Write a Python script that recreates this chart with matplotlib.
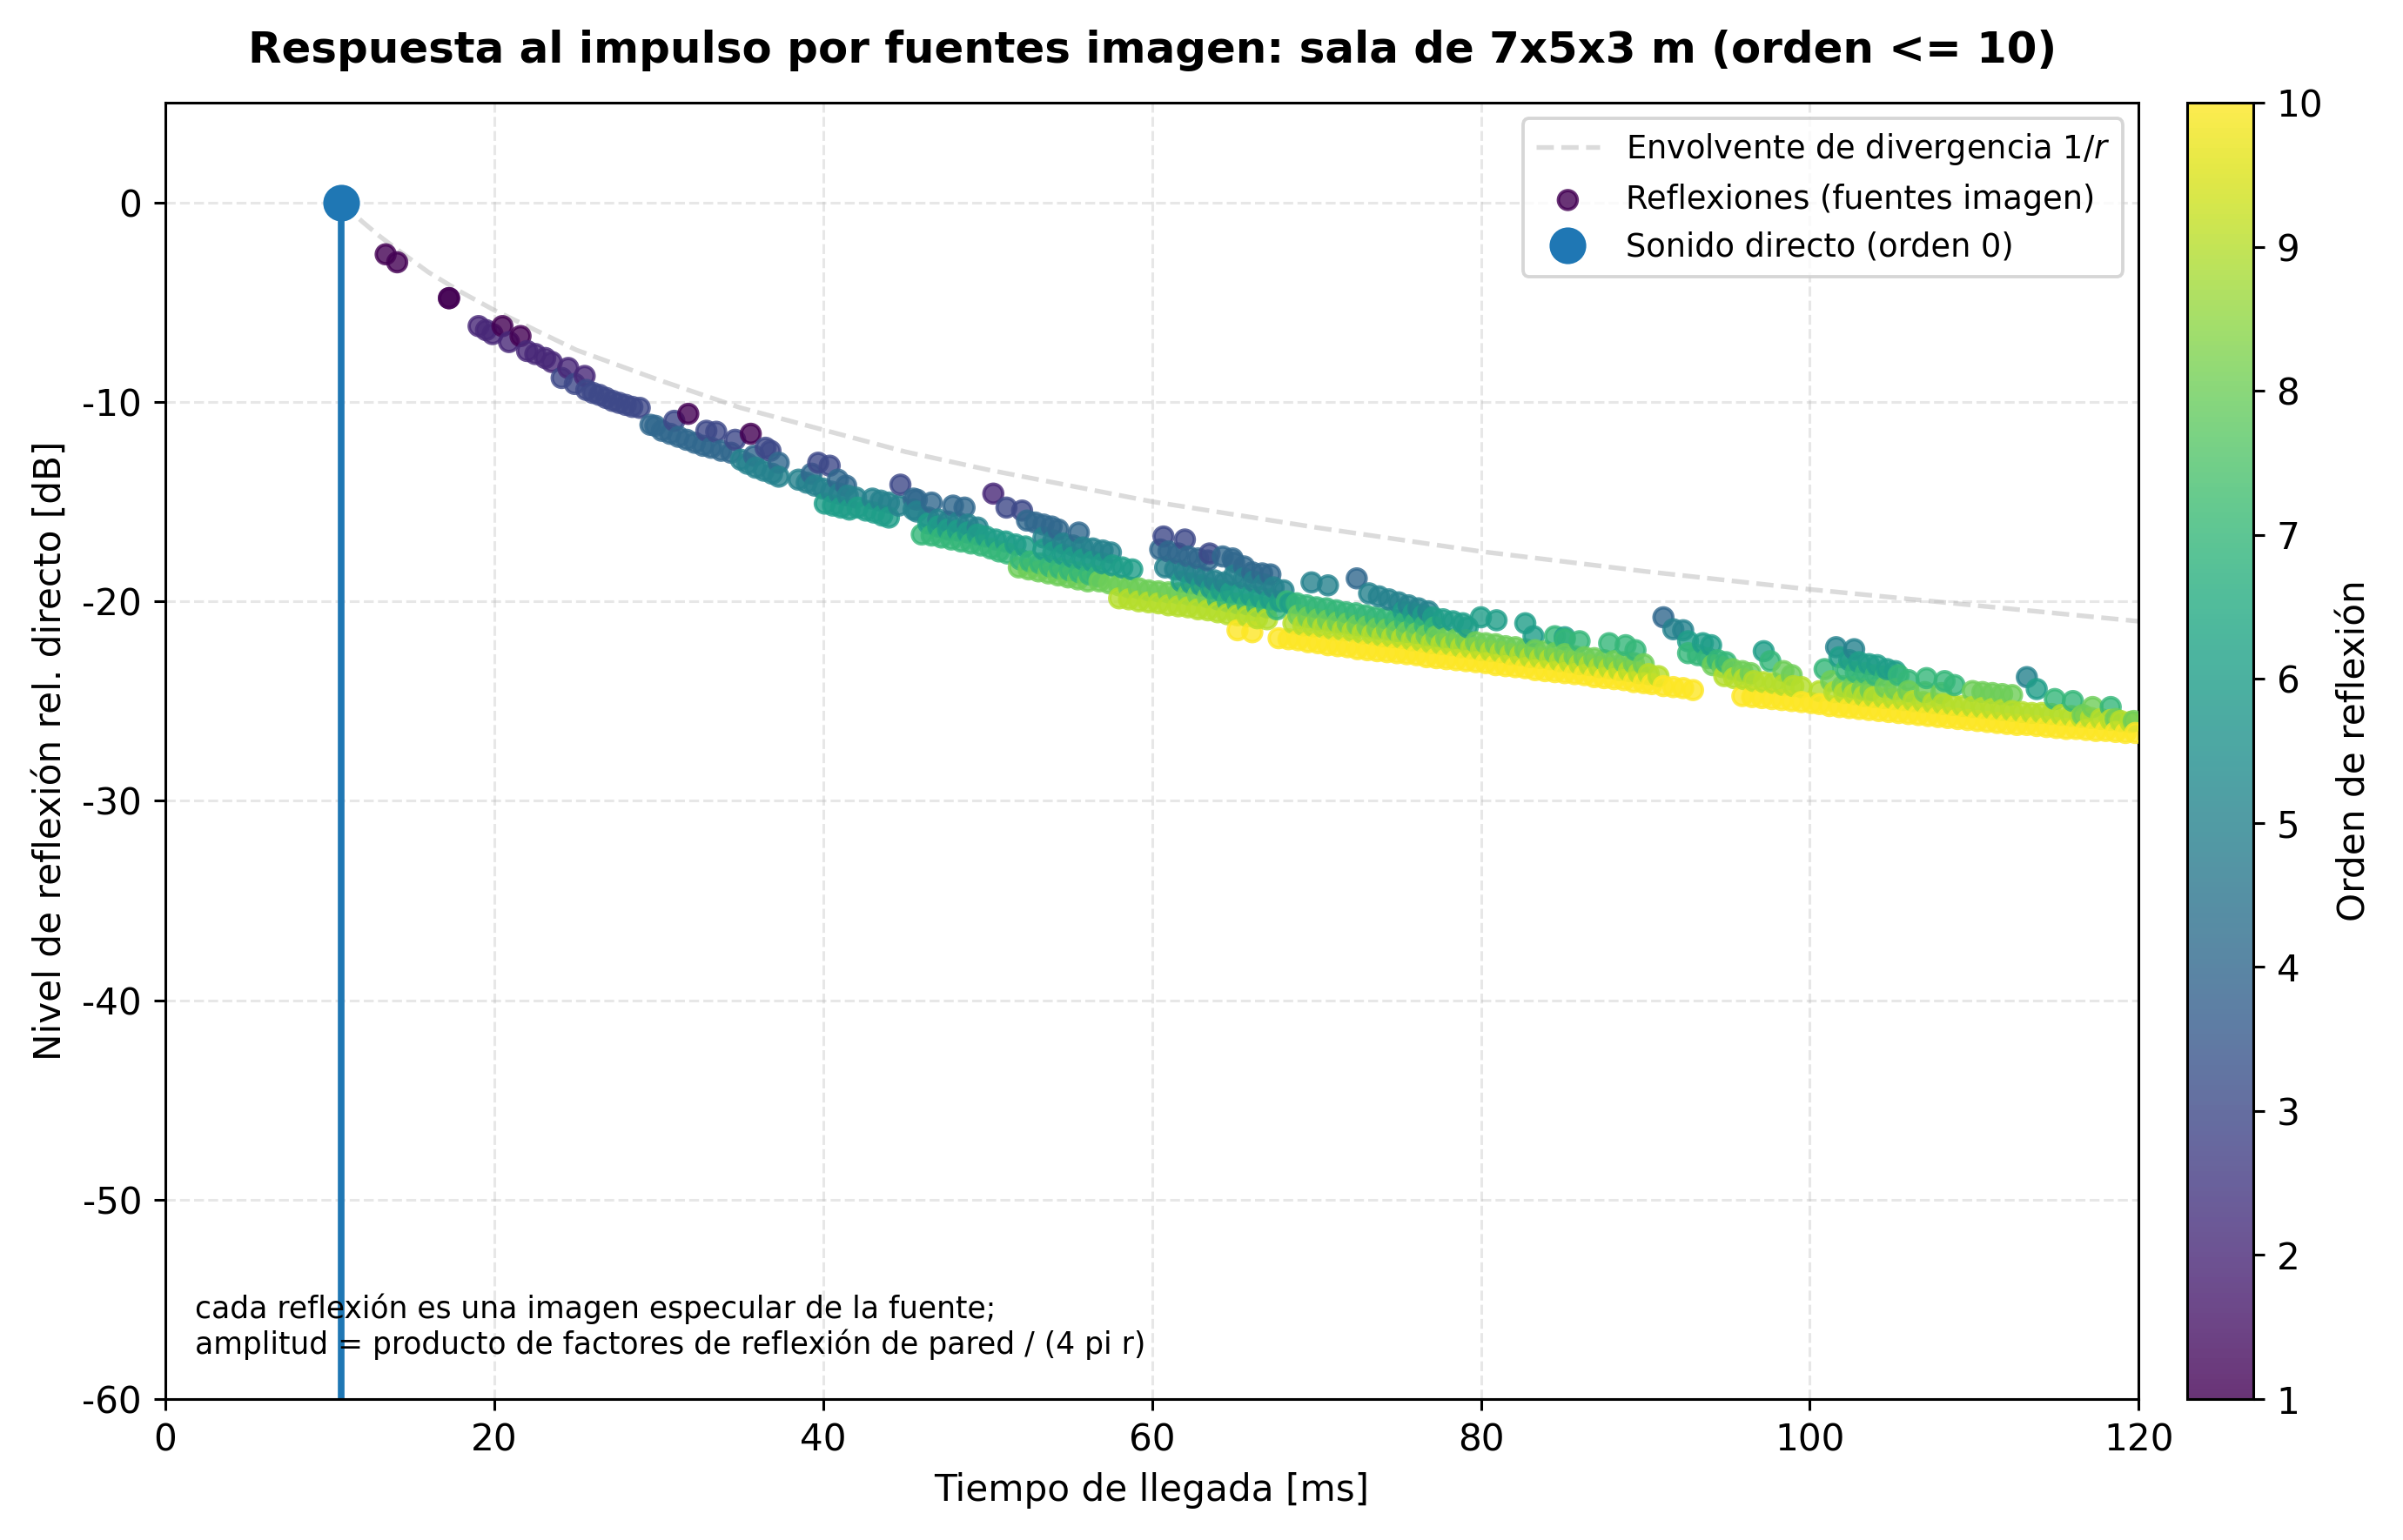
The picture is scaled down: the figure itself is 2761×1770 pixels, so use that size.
import numpy as np
import matplotlib
matplotlib.use("Agg")
import matplotlib.pyplot as plt

plt.rcParams['axes.unicode_minus'] = False

# sonido directo
t_direct = 10.7
db_direct = 0.0

# envolvente 1/r
env_t = [10.7, 11, 12, 13, 14, 16, 18, 20, 25, 30, 35, 40, 45, 50, 60, 70, 80, 90, 100, 110, 120]
env_db = [0.0, -0.22, -0.98, -1.67, -2.3, -3.5, -4.5, -5.4, -7.4, -8.9, -10.3, -11.4, -12.5,
          -13.4, -15.0, -16.3, -17.5, -18.5, -19.4, -20.2, -21.0]

# reflexiones (tiempo [ms], nivel [dB]) por orden
refl_o1 = [(13.4, -2.6), (14.1, -3.0), (17.25, -4.8), (17.25, -4.8), (20.5, -6.2), (21.6, -6.7),
           (31.8, -10.6), (35.6, -11.6)]
refl_o2 = [(19.05, -6.2), (19.5, -6.4), (19.9, -6.6), (20.9, -7.0), (22.0, -7.45), (22.5, -7.6),
           (23.1, -7.8), (23.5, -8.0), (24.5, -8.3), (25.5, -8.7), (50.35, -14.6)]
refl_o3 = [(24.1, -8.8), (24.9, -9.1), (25.6, -9.4), (26.0, -9.55), (26.4, -9.65), (26.8, -9.8),
           (27.2, -9.95), (27.6, -10.05), (28.0, -10.15), (28.4, -10.25), (28.85, -10.3),
           (30.95, -10.95), (32.9, -11.45), (33.5, -11.5), (34.65, -11.9), (36.5, -12.3),
           (36.8, -12.45), (39.7, -13.05), (40.4, -13.2), (44.7, -14.15), (51.15, -15.3),
           (52.1, -15.45), (60.7, -16.75), (62.0, -16.9), (63.5, -17.6)]
refl_o4 = [(29.5, -11.15), (29.8, -11.2), (30.2, -11.45), (30.7, -11.6), (31.2, -11.75), (31.7, -11.9),
           (32.2, -12.05), (32.7, -12.2), (33.2, -12.3), (33.8, -12.45), (34.4, -12.55), (35.8, -12.7),
           (37.3, -13.05), (39.3, -13.6), (40.9, -13.9), (41.4, -14.2), (45.5, -14.85), (45.7, -14.9),
           (46.6, -15.05), (47.9, -15.2), (48.6, -15.3), (52.4, -15.95), (52.9, -16.05), (53.4, -16.15),
           (53.9, -16.25), (54.3, -16.4), (55.55, -16.55), (60.5, -17.4), (61.0, -17.5), (61.6, -17.6),
           (62.2, -17.75), (62.8, -17.85), (63.4, -17.95), (64.3, -17.75), (64.9, -17.85), (65.0, -18.05),
           (65.6, -18.25), (66.1, -18.55), (66.7, -18.6), (67.2, -18.65), (72.45, -18.85), (91.1, -20.8)]
refl_o5 = [(35.0, -12.9), (35.4, -13.1), (35.9, -13.3), (36.4, -13.45), (36.9, -13.6), (37.3, -13.75),
           (38.5, -13.9), (39.0, -14.05), (39.5, -14.2), (40.0, -14.35), (40.5, -14.5), (41.0, -14.6),
           (41.5, -14.7), (42.0, -14.8), (43.0, -14.85), (43.5, -14.95), (44.0, -15.05), (44.6, -15.2),
           (45.5, -15.4), (45.7, -15.5), (46.4, -15.8), (47.0, -15.9), (47.6, -16.0), (48.2, -16.05),
           (48.8, -16.15), (49.4, -16.3), (53.4, -16.8), (54.0, -16.95), (54.6, -17.1), (55.2, -17.2),
           (55.8, -17.3), (56.4, -17.35), (57.0, -17.45), (57.5, -17.55), (60.8, -18.3), (61.4, -18.4),
           (62.0, -18.5), (62.6, -18.65), (63.2, -18.8), (63.8, -18.95), (64.4, -19.05), (65.0, -18.7),
           (65.6, -18.85), (66.2, -19.0), (66.8, -19.15), (67.4, -19.3), (68.0, -19.45), (69.7, -19.05),
           (70.7, -19.2), (73.2, -19.6), (73.8, -19.75), (74.4, -19.9), (75.0, -20.05), (75.6, -20.2),
           (76.2, -20.35), (76.8, -20.5), (91.7, -21.4), (92.3, -21.45), (101.6, -22.3), (102.7, -22.4),
           (113.2, -23.8)]
refl_o6 = [(40.1, -15.1), (40.6, -15.2), (41.1, -15.3), (41.6, -15.4), (42.1, -15.3), (42.6, -15.45),
           (43.1, -15.55), (43.6, -15.7), (44.0, -15.8), (46.4, -16.1), (47.0, -16.25), (47.6, -16.4),
           (48.2, -16.45), (48.8, -16.55), (49.4, -16.65), (49.9, -16.75), (50.5, -16.9), (51.1, -17.0),
           (51.7, -17.15), (52.3, -17.25), (53.4, -17.4), (54.0, -17.55), (54.6, -17.65), (55.2, -17.8),
           (55.8, -17.9), (56.4, -18.0), (57.0, -18.1), (57.6, -18.2), (58.2, -18.3), (58.8, -18.4),
           (61.8, -19.0), (62.4, -19.1), (63.0, -19.2), (63.6, -19.35), (64.2, -19.45), (64.8, -19.55),
           (65.4, -19.6), (66.0, -19.7), (66.6, -19.8), (67.2, -19.9), (67.8, -20.0), (68.4, -20.1),
           (75.3, -20.5), (75.9, -20.6), (76.5, -20.7), (77.1, -20.8), (77.7, -20.9), (78.3, -21.0),
           (78.9, -21.1), (79.2, -21.3), (80.0, -20.8), (80.95, -20.95), (82.7, -21.1), (83.2, -21.75),
           (85.1, -21.8), (92.6, -22.0), (93.5, -22.1), (94.0, -22.2), (97.2, -22.5), (101.8, -22.8),
           (102.4, -22.95), (103.0, -23.05), (103.6, -23.15), (104.1, -23.2), (104.7, -23.4),
           (105.2, -23.5), (113.8, -24.4)]
refl_o7 = [(46.0, -16.65), (46.6, -16.7), (47.2, -16.8), (47.8, -16.9), (48.4, -17.0), (49.0, -17.1),
           (49.6, -17.2), (50.2, -17.35), (50.7, -17.5), (51.2, -17.6), (52.0, -17.9), (52.6, -18.0),
           (53.2, -18.1), (53.8, -18.25), (54.4, -18.35), (55.0, -18.45), (55.6, -18.55), (56.2, -18.65),
           (56.7, -18.75), (64.0, -19.9), (64.6, -20.0), (65.2, -20.1), (65.8, -20.15), (66.4, -20.25),
           (67.0, -20.3), (67.6, -20.4), (68.2, -20.0), (68.8, -20.1), (69.4, -20.2), (70.0, -20.3),
           (70.6, -20.35), (71.2, -20.45), (71.8, -20.55), (72.4, -20.6), (73.0, -20.7), (73.6, -20.8),
           (74.2, -20.85), (74.8, -20.95), (75.4, -21.05), (76.0, -21.1), (76.6, -21.2), (77.2, -21.3),
           (84.5, -21.75), (85.1, -21.9), (86.0, -22.0), (87.8, -22.1), (88.8, -22.2), (89.4, -22.45),
           (92.6, -22.6), (93.2, -22.7), (93.8, -22.85), (94.4, -22.95), (94.9, -23.05), (97.6, -23.0),
           (100.9, -23.4), (102.2, -23.45), (102.8, -23.55), (103.4, -23.6), (104.0, -23.7),
           (104.6, -23.75), (105.4, -23.7), (106.0, -23.95), (107.1, -23.85), (108.2, -24.0),
           (108.8, -24.2), (114.9, -24.9), (116.0, -25.0), (118.3, -25.3)]
refl_o8 = [(51.9, -18.3), (52.5, -18.4), (53.1, -18.5), (53.7, -18.6), (54.3, -18.7), (54.9, -18.8),
           (55.5, -18.9), (56.1, -19.0), (56.8, -19.0), (57.4, -19.1), (58.0, -19.2), (58.6, -19.3),
           (59.2, -19.35), (59.8, -19.45), (60.4, -19.5), (61.0, -19.55), (61.6, -19.6), (62.2, -19.65),
           (62.8, -19.7), (63.4, -19.8), (68.9, -20.7), (69.5, -20.8), (70.1, -20.9), (70.7, -20.95),
           (71.3, -21.05), (71.9, -21.1), (72.5, -21.2), (73.1, -21.25), (73.7, -21.35), (74.3, -21.4),
           (74.9, -21.5), (75.5, -21.55), (76.1, -21.6), (76.7, -21.7), (77.3, -21.75), (77.9, -21.85),
           (78.5, -21.9), (79.1, -21.95), (79.7, -22.05), (80.3, -22.1), (80.9, -22.15), (81.5, -22.25),
           (82.1, -22.3), (82.7, -22.4), (83.3, -22.45), (83.9, -22.5), (84.5, -22.6), (85.1, -22.65),
           (85.7, -22.75), (86.3, -22.8), (86.9, -22.85), (87.5, -22.95), (88.1, -23.0), (88.7, -23.05),
           (89.3, -23.1), (89.9, -23.15), (94.1, -23.2), (94.7, -23.3), (95.3, -23.4), (95.9, -23.5),
           (96.4, -23.6), (98.4, -23.5), (98.9, -23.7), (101.3, -24.0), (102.0, -24.25), (102.6, -24.3),
           (103.2, -24.4), (103.7, -24.45), (104.6, -24.3), (105.2, -24.4), (106.0, -24.5),
           (107.0, -24.55), (108.0, -24.6), (109.9, -24.5), (110.5, -24.55), (111.1, -24.6),
           (111.7, -24.65), (112.3, -24.7), (116.6, -25.7), (117.2, -25.3), (118.6, -25.9), (119.7, -26.0)]
refl_o9 = [(58.0, -19.85), (58.6, -19.9), (59.2, -20.0), (59.8, -20.05), (60.4, -20.1), (61.0, -20.2),
           (61.6, -20.25), (62.2, -20.3), (62.8, -20.4), (63.4, -20.45), (64.0, -20.55), (64.6, -20.65),
           (65.2, -20.7), (65.8, -20.75), (66.4, -20.85), (67.0, -20.9), (68.6, -21.1), (69.2, -21.2),
           (69.8, -21.25), (70.4, -21.3), (71.0, -21.4), (71.6, -21.45), (72.2, -21.5), (72.8, -21.6),
           (73.4, -21.65), (74.0, -21.75), (74.6, -21.8), (75.2, -21.85), (75.8, -21.95), (76.4, -22.0),
           (77.0, -22.1), (77.6, -22.15), (78.2, -22.2), (78.8, -22.3), (79.4, -22.35), (80.0, -22.45),
           (80.6, -22.5), (81.2, -22.55), (81.8, -22.65), (82.4, -22.7), (83.0, -22.8), (83.6, -22.85),
           (84.2, -22.9), (84.8, -23.0), (85.4, -23.05), (86.0, -23.15), (86.6, -23.2), (87.2, -23.3),
           (87.8, -23.35), (88.4, -23.45), (89.0, -23.5), (89.6, -23.6), (90.2, -23.65), (90.8, -23.75),
           (94.8, -23.75), (95.4, -23.85), (96.0, -23.9), (96.6, -24.0), (97.2, -24.05), (97.8, -24.1),
           (98.4, -24.2), (99.0, -24.25), (99.5, -24.3), (100.6, -24.5), (101.5, -24.55), (102.1, -24.6),
           (102.7, -24.65), (103.3, -24.75), (103.9, -24.8), (104.5, -24.85), (105.1, -24.9),
           (105.7, -24.95), (106.3, -25.0), (106.9, -25.05), (107.5, -25.1), (108.1, -25.15),
           (108.7, -25.2), (109.3, -25.25), (109.9, -25.3), (110.5, -25.35), (111.1, -25.4),
           (111.7, -25.45), (112.3, -25.5), (112.9, -25.55), (113.5, -25.6), (114.1, -25.6),
           (114.7, -25.65), (115.3, -25.7), (115.9, -25.75), (116.5, -25.8), (117.1, -25.85),
           (117.7, -25.9), (118.3, -25.95), (118.9, -26.0), (119.5, -26.05)]
refl_o10 = [(65.2, -21.45), (66.1, -21.55), (67.7, -21.85), (68.3, -21.9), (68.9, -21.95), (69.5, -22.05),
            (70.1, -22.1), (70.7, -22.2), (71.3, -22.25), (71.9, -22.3), (72.5, -22.4), (73.1, -22.45),
            (73.7, -22.5), (74.3, -22.55), (74.9, -22.6), (75.5, -22.65), (76.1, -22.7), (76.7, -22.8),
            (77.3, -22.85), (77.9, -22.9), (78.5, -22.95), (79.1, -23.0), (79.7, -23.05), (80.3, -23.1),
            (80.9, -23.2), (81.5, -23.25), (82.1, -23.3), (82.7, -23.35), (83.3, -23.45), (83.9, -23.5),
            (84.5, -23.55), (85.1, -23.6), (85.7, -23.65), (86.3, -23.7), (86.9, -23.8), (87.5, -23.85),
            (88.1, -23.9), (88.7, -23.95), (89.3, -24.05), (89.9, -24.1), (90.4, -24.15), (91.1, -24.25),
            (91.7, -24.3), (92.3, -24.35), (92.9, -24.45), (95.9, -24.75), (96.5, -24.8), (97.1, -24.85),
            (97.7, -24.9), (98.3, -24.95), (98.9, -25.0), (99.5, -25.05), (100.1, -25.1), (100.6, -25.15),
            (101.2, -25.25), (101.8, -25.3), (102.4, -25.35), (103.0, -25.4), (103.6, -25.45),
            (104.2, -25.5), (104.8, -25.55), (105.4, -25.6), (106.0, -25.65), (106.6, -25.7),
            (107.2, -25.75), (107.8, -25.8), (108.4, -25.85), (109.0, -25.9), (109.6, -25.95),
            (110.2, -26.0), (110.8, -26.05), (111.4, -26.1), (112.0, -26.15), (112.6, -26.2),
            (113.2, -26.2), (113.8, -26.25), (114.4, -26.3), (115.0, -26.35), (115.6, -26.4),
            (116.2, -26.4), (116.8, -26.45), (117.4, -26.5), (118.0, -26.5), (118.6, -26.55),
            (119.2, -26.6), (119.8, -26.6)]

all_refl = [refl_o1, refl_o2, refl_o3, refl_o4, refl_o5, refl_o6, refl_o7, refl_o8, refl_o9, refl_o10]

t_list, db_list, ord_list = [], [], []
for k, pts in enumerate(all_refl, start=1):
    for t, db in pts:
        t_list.append(t)
        db_list.append(db)
        ord_list.append(k)
t_arr = np.array(t_list)
db_arr = np.array(db_list)
ord_arr = np.array(ord_list)
idx = np.argsort(t_arr, kind="stable")
t_arr, db_arr, ord_arr = t_arr[idx], db_arr[idx], ord_arr[idx]

DPI = 276
fig = plt.figure(figsize=(2761 / DPI, 1770 / DPI), dpi=DPI)
ax = fig.add_axes([0.0688, 0.0915, 0.8212, 0.8418])
cax = fig.add_axes([0.9101, 0.0915, 0.0275, 0.8418])

ax.plot(env_t, env_db, ls="--", color="0.6", alpha=0.35, lw=1.4,
        label="Envolvente de divergencia 1/$r$", zorder=1)
sc = ax.scatter(t_arr, db_arr, c=ord_arr, cmap="viridis", vmin=1, vmax=10,
                s=32, alpha=0.8, label="Reflexiones (fuentes imagen)", zorder=3)
ax.vlines(t_direct, -60, db_direct, color="#1f77b4", lw=2, zorder=2)
ax.plot([t_direct], [db_direct], "o", color="#1f77b4", ms=10, ls="none",
        label="Sonido directo (orden 0)", zorder=4)

ax.set_xlim(0, 120)
ax.set_ylim(-60, 5)
ax.set_xticks([0, 20, 40, 60, 80, 100, 120])
ax.set_yticks([0, -10, -20, -30, -40, -50, -60])
ax.grid(True, ls="--", alpha=0.3)
ax.set_xlabel("Tiempo de llegada [ms]", fontsize=11)
ax.set_ylabel("Nivel de reflexión rel. directo [dB]", fontsize=11)
ax.tick_params(labelsize=11)
ax.set_title("Respuesta al impulso por fuentes imagen: sala de 7x5x3 m (orden <= 10)",
             fontsize=13, fontweight="bold", pad=12)
ax.legend(loc="upper right", fontsize=9.6)
ax.text(0.015, 0.03, "cada reflexión es una imagen especular de la fuente;\n"
        "amplitud = producto de factores de reflexión de pared / (4 pi r)",
        transform=ax.transAxes, fontsize=9, ha="left", va="bottom")

cb = fig.colorbar(sc, cax=cax)
cb.set_ticks(range(1, 11))
cb.set_label("Orden de reflexión", fontsize=11)
cb.ax.tick_params(labelsize=11)

fig.savefig("out.png", dpi=DPI)
